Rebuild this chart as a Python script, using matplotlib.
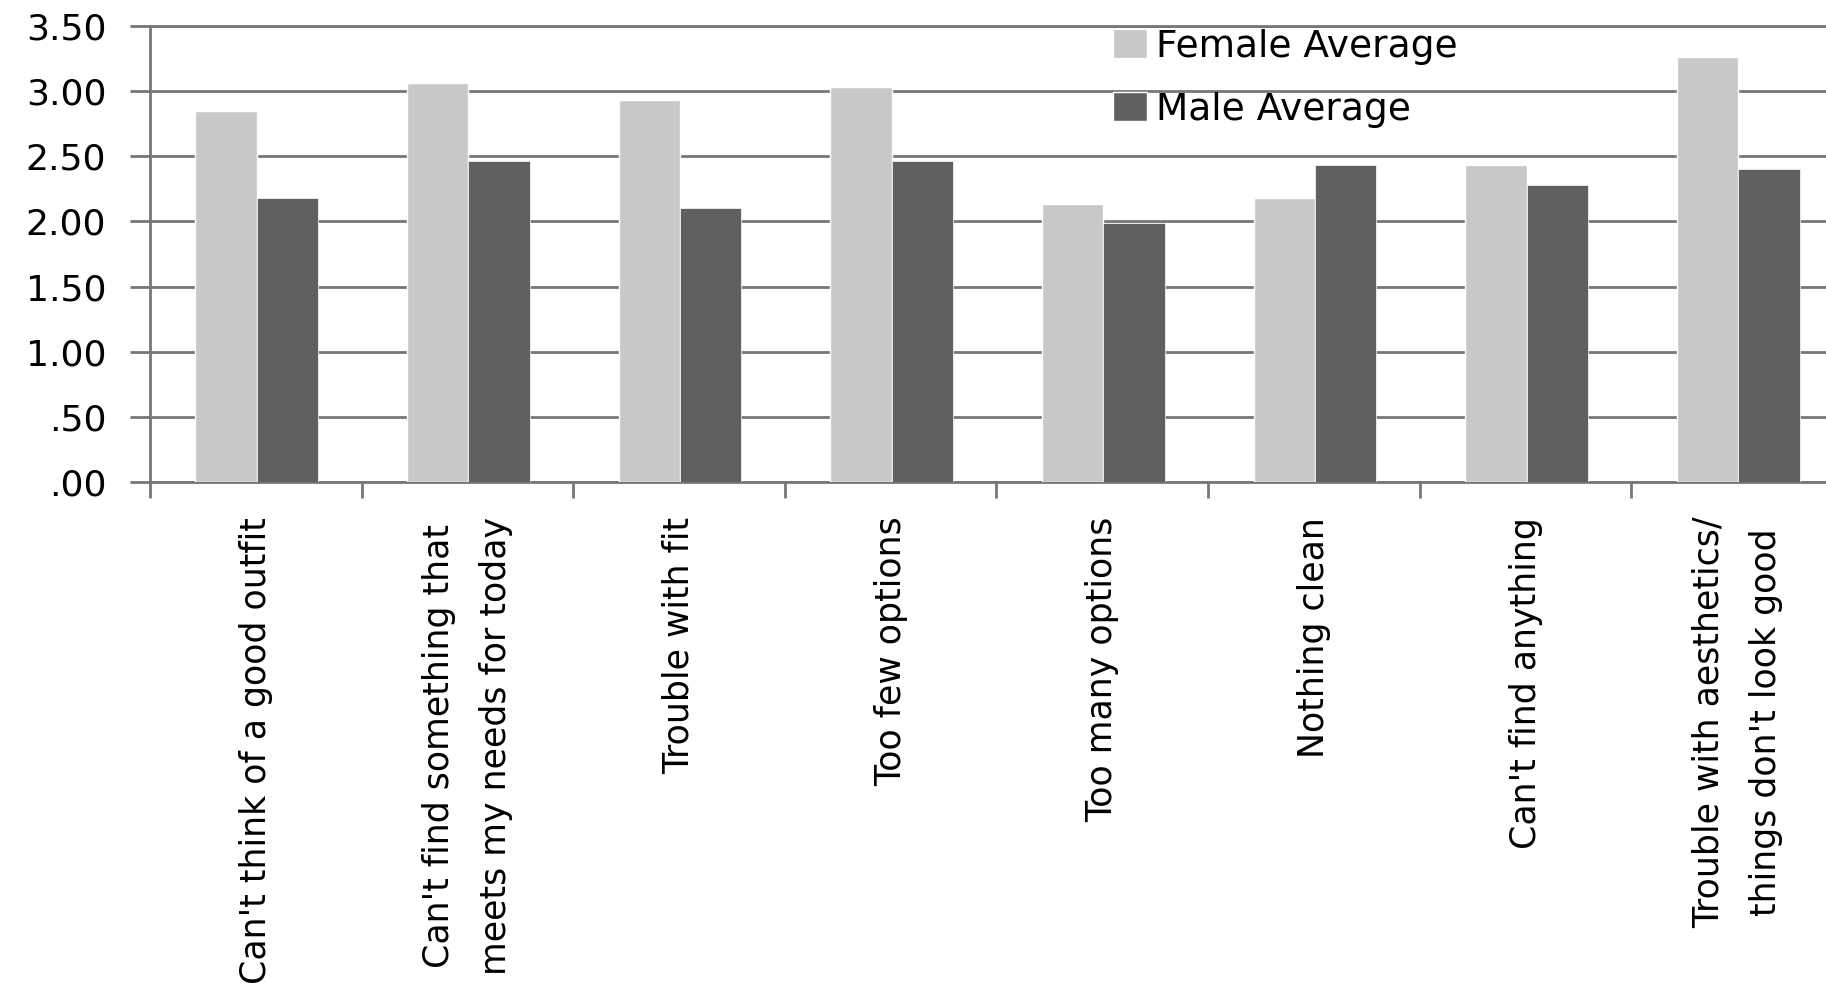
import matplotlib
matplotlib.use('Agg')
import matplotlib.pyplot as plt
import numpy as np
from matplotlib.patches import Patch

# Data
categories = [
    "Can't think of a good outfit",
    "Can't find something that\nmeets my needs for today",
    "Trouble with fit",
    "Too few options",
    "Too many options",
    "Nothing clean",
    "Can't find anything",
    "Trouble with aesthetics/\nthings don't look good",
]
female_avg = [2.85, 3.06, 2.93, 3.03, 2.13, 2.18, 2.43, 3.26]
male_avg = [2.18, 2.46, 2.10, 2.46, 1.99, 2.43, 2.28, 2.40]
y_ticks = [0, 0.5, 1.0, 1.5, 2.0, 2.5, 3.0, 3.5]
y_tick_labels = ['.00', '.50', '1.00', '1.50', '2.00', '2.50', '3.00', '3.50']

female_color = '#c8c8c8'
male_color = '#606060'
grid_color = '#777777'

fig = plt.figure(figsize=(18.26, 9.9), dpi=100)
# axes placed in pixel terms: left at 150px, y=0 at 482px, y=3.5 at 26px from top
ax = fig.add_axes([150 / 1826, (990 - 482) / 990, 1 - 150 / 1826, (482 - 26) / 990])

x = np.arange(len(categories))
w = 0.29
ax.bar(x - 0.14, female_avg, w, color=female_color, edgecolor='white', linewidth=1, zorder=3)
ax.bar(x + 0.15, male_avg, w, color=male_color, edgecolor='white', linewidth=0.5, zorder=3)

ax.set_ylim(0, 3.5)
ax.set_xlim(-0.5, 7.42)

# horizontal gridlines
ax.set_yticks(y_ticks)
ax.set_yticklabels(y_tick_labels, fontsize=26)
ax.yaxis.grid(True, color=grid_color, linewidth=2, zorder=0)
ax.set_axisbelow(True)
ax.tick_params(axis='y', length=14.5, width=2, color=grid_color, pad=17)

# category labels at centres, boundary tick marks as minor ticks
ax.set_xticks(x)
ax.set_xticklabels(categories, rotation=90, fontsize=25, ha='center', va='top')
for lab in ax.get_xticklabels():
    lab.set_multialignment('center')
    lab.set_linespacing(1.85)
ax.tick_params(axis='x', which='major', length=0, pad=25)
ax.set_xticks(np.arange(-0.5, 7.0, 1.0), minor=True)
ax.tick_params(axis='x', which='minor', length=11.5, width=2, color=grid_color)

ax.spines['right'].set_visible(False)
for side in ['left', 'bottom', 'top']:
    ax.spines[side].set_color(grid_color)
    ax.spines[side].set_linewidth(2)

handles = [Patch(facecolor=female_color, edgecolor='white', label='Female Average'),
           Patch(facecolor=male_color, edgecolor='white', label='Male Average')]
ax.legend(handles=handles, loc='upper left', bbox_to_anchor=(1113 / 1826, 0.971),
          bbox_transform=fig.transFigure, frameon=False, fontsize=27,
          handlelength=0.9, handleheight=0.8, handletextpad=0.25,
          labelspacing=0.72, borderpad=0, borderaxespad=0)

fig.savefig('out.png', dpi=100, facecolor='white')
